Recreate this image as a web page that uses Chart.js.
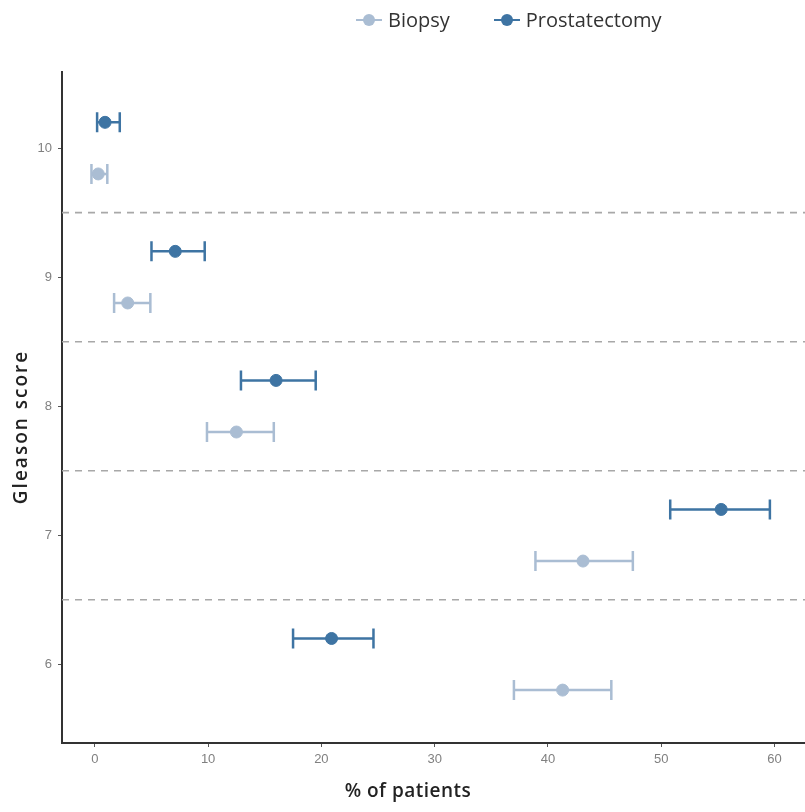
<!DOCTYPE html>
<html>
<head>
<meta charset="utf-8">
<script src="https://cdn.jsdelivr.net/npm/chart.js@4"></script>
<style>
  html, body { margin: 0; padding: 0; background: #fff; overflow: hidden; }
  #wrap { position: relative; width: 805px; height: 812px; overflow: hidden; }
  #chart { display: block; }
  #legend { position: absolute; top: 6px; left: 356px; display: flex; align-items: center;
            font-family: "Open Sans", sans-serif; font-size: 20px; color: #333; }
  .item { display: flex; align-items: center; margin-right: 44px; }
  .mark { position: relative; width: 26px; height: 12px; margin-right: 6px; }
  .mark .ln { position: absolute; left: 0; right: 0; top: 5px; height: 2px; }
  .mark .dot { position: absolute; left: 7px; top: 0; width: 12px; height: 12px; border-radius: 50%; }
</style>
</head>
<body>
<div id="wrap">
  <canvas id="chart" width="812" height="812"></canvas>
  <div id="legend"></div>
</div>
<script>
    // Gleason scores on the y axis
    const scores = [6, 7, 8, 9, 10];

    // % of patients, mean and interval ends
    const biopsyPct = [41.3, 43.1, 12.5, 2.9, 0.3];
    const biopsyLow = [37.0, 38.9, 9.9, 1.7, -0.3];
    const biopsyHigh = [45.6, 47.5, 15.8, 4.9, 1.1];

    const prostPct = [20.9, 55.3, 16.0, 7.1, 0.9];
    const prostLow = [17.5, 50.8, 12.9, 5.0, 0.2];
    const prostHigh = [24.6, 59.6, 19.5, 9.7, 2.2];

    // dashed separators between scores
    const separators = [6.5, 7.5, 8.5, 9.5];

    const xTicks = [0, 10, 20, 30, 40, 50, 60];
    const yTicks = [6, 7, 8, 9, 10];

    const X_MIN = -2.9, X_MAX = 62.7;
    const Y_MIN = 5.39, Y_MAX = 10.59;
    const DODGE = 0.2;

    const BIOPSY_COLOR = '#aabdd3';
    const PROST_COLOR = '#3e74a3';

    const series = [
        { label: 'Biopsy', color: BIOPSY_COLOR, mean: biopsyPct, low: biopsyLow, high: biopsyHigh, shift: -DODGE },
        { label: 'Prostatectomy', color: PROST_COLOR, mean: prostPct, low: prostLow, high: prostHigh, shift: DODGE }
    ];

    const datasets = [];

    separators.forEach(s => {
        datasets.push({
            type: 'line',
            data: [{ x: X_MIN, y: s }, { x: X_MAX, y: s }],
            borderColor: '#a8a8a8',
            borderWidth: 1.6,
            borderDash: [7, 6],
            pointRadius: 0
        });
    });

    series.forEach(s => {
        datasets.push({
            type: 'scatter',
            label: s.label,
            data: scores.map((sc, i) => ({ x: s.mean[i], y: sc + s.shift })),
            backgroundColor: s.color,
            borderColor: s.color,
            pointRadius: 6,
            pointHoverRadius: 6,
            errLow: s.low,
            errHigh: s.high
        });
    });

    // horizontal error bars, drawn under the points
    const errorBars = {
        id: 'errorBars',
        beforeDatasetsDraw(chart) {
            const ctx = chart.ctx;
            const xs = chart.scales.x, ys = chart.scales.y;
            chart.data.datasets.forEach(ds => {
                if (!ds.errLow) return;
                ctx.save();
                ctx.strokeStyle = ds.borderColor;
                ctx.lineWidth = 2.5;
                ds.data.forEach((p, i) => {
                    const y = ys.getPixelForValue(p.y);
                    const x1 = xs.getPixelForValue(ds.errLow[i]);
                    const x2 = xs.getPixelForValue(ds.errHigh[i]);
                    ctx.beginPath();
                    ctx.moveTo(x1, y); ctx.lineTo(x2, y);
                    ctx.moveTo(x1, y - 10); ctx.lineTo(x1, y + 10);
                    ctx.moveTo(x2, y - 10); ctx.lineTo(x2, y + 10);
                    ctx.stroke();
                });
                ctx.restore();
            });
        }
    };

    // axis titles, placed like the original (not centred on the panel)
    const axisTitles = {
        id: 'axisTitles',
        afterDraw(chart) {
            const ctx = chart.ctx;
            ctx.save();
            ctx.fillStyle = '#222';
            ctx.font = '600 19px "Open Sans"';
            ctx.textAlign = 'center';
            ctx.textBaseline = 'middle';
            ctx.letterSpacing = '0.5px';
            ctx.fillText('% of patients', 408, 792);
            ctx.translate(22, 427);
            ctx.rotate(-Math.PI / 2);
            ctx.letterSpacing = '2px';
            ctx.fillText('Gleason score', 0, 0);
            ctx.restore();
        }
    };

    const tickFont = { family: 'Liberation Sans', size: 13 };

    new Chart(document.getElementById('chart'), {
        data: { datasets: datasets },
        options: {
            responsive: false,
            animation: false,
            layout: { padding: { top: 72, right: 0, left: 0, bottom: 0 } },
            plugins: {
                legend: { display: false },
                tooltip: { enabled: false }
            },
            scales: {
                x: {
                    type: 'linear',
                    min: X_MIN,
                    max: X_MAX,
                    afterBuildTicks: sc => { sc.ticks = xTicks.map(v => ({ value: v })); },
                    afterFit: sc => { sc.height = 69; },
                    border: { display: true, color: '#333', width: 2 },
                    grid: { drawOnChartArea: false, drawTicks: true, tickLength: 4, color: '#555' },
                    ticks: { color: '#808080', font: tickFont, padding: 5 }
                },
                y: {
                    type: 'linear',
                    min: Y_MIN,
                    max: Y_MAX,
                    afterBuildTicks: sc => { sc.ticks = yTicks.map(v => ({ value: v })); },
                    afterFit: sc => { sc.width = 62; },
                    border: { display: true, color: '#333', width: 2 },
                    grid: { drawOnChartArea: false, drawTicks: true, tickLength: 4, color: '#555' },
                    ticks: { color: '#808080', font: tickFont, padding: 6 }
                }
            }
        },
        plugins: [errorBars, axisTitles]
    });

    // legend above the panel
    const legend = document.getElementById('legend');
    series.forEach(s => {
        const item = document.createElement('div');
        item.className = 'item';
        item.innerHTML = '<span class="mark"><span class="ln" style="background:' + s.color + '"></span>' +
            '<span class="dot" style="background:' + s.color + '"></span></span><span>' + s.label + '</span>';
        legend.appendChild(item);
    });
</script>
</body>
</html>
